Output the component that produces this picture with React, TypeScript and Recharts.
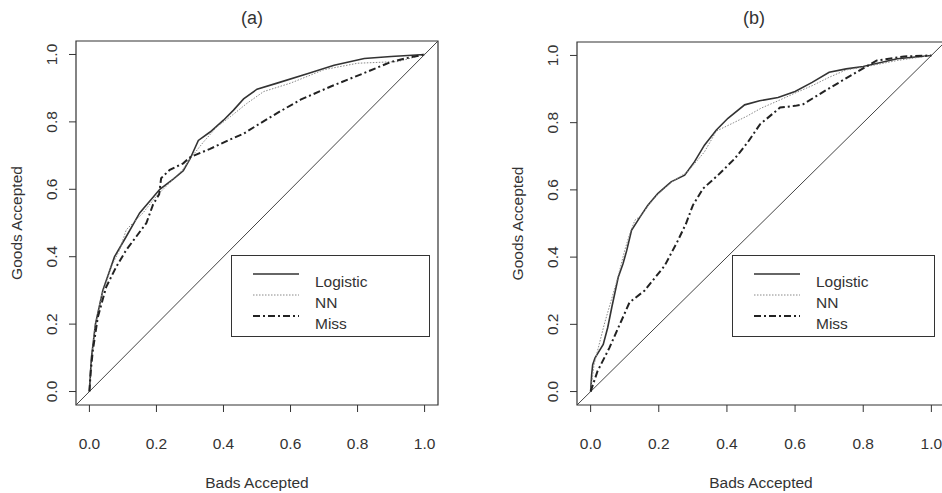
import React from 'react'
import {
  LineChart,
  Line,
  XAxis,
  YAxis,
  ReferenceLine,
  ReferenceArea,
  Legend,
} from 'recharts'

// tick values shared by both axes of both panels
const axisTicks = [0, 0.2, 0.4, 0.6, 0.8, 1.0]
const axisDomain = [-0.04, 1.04]
const seriesNames = ['Logistic', 'NN', 'Miss']

// panel (a): [bads accepted, goods accepted]
const logisticA: [number, number][] = [
  [0, 0], [0.003, 0.05], [0.006, 0.1], [0.018, 0.2], [0.04, 0.3], [0.075, 0.4],
  [0.11, 0.46], [0.15, 0.53], [0.21, 0.6], [0.25, 0.63], [0.28, 0.655], [0.3, 0.69],
  [0.325, 0.745], [0.36, 0.77], [0.4, 0.805], [0.43, 0.835], [0.46, 0.868], [0.5, 0.897],
  [0.56, 0.915], [0.65, 0.943], [0.73, 0.968], [0.82, 0.988], [0.9, 0.994], [1, 1],
]
const nnA: [number, number][] = [
  [0, 0], [0.005, 0.08], [0.015, 0.18], [0.035, 0.28], [0.065, 0.37], [0.09, 0.42],
  [0.11, 0.48], [0.16, 0.53], [0.2, 0.58], [0.24, 0.62], [0.28, 0.66], [0.3, 0.69],
  [0.34, 0.74], [0.38, 0.785], [0.42, 0.815], [0.47, 0.855], [0.52, 0.89], [0.6, 0.915],
  [0.7, 0.955], [0.8, 0.974], [0.92, 0.979], [1, 1],
]
const missA: [number, number][] = [
  [0, 0], [0.004, 0.06], [0.01, 0.12], [0.025, 0.22], [0.05, 0.31], [0.08, 0.37],
  [0.11, 0.42], [0.14, 0.46], [0.17, 0.5], [0.19, 0.555], [0.208, 0.585], [0.214, 0.633],
  [0.24, 0.658], [0.28, 0.677], [0.3, 0.695], [0.36, 0.72], [0.42, 0.748], [0.46, 0.765],
  [0.5, 0.79], [0.56, 0.826], [0.63, 0.866], [0.72, 0.905], [0.82, 0.945], [0.9, 0.978],
  [0.95, 0.99], [1, 1],
]

// panel (b)
const logisticB: [number, number][] = [
  [0, 0], [0.003, 0.05], [0.006, 0.08], [0.013, 0.1], [0.037, 0.14], [0.05, 0.19],
  [0.062, 0.25], [0.081, 0.34], [0.095, 0.38], [0.106, 0.42], [0.12, 0.48], [0.148, 0.524],
  [0.168, 0.554], [0.197, 0.589], [0.236, 0.624], [0.276, 0.644], [0.305, 0.684],
  [0.334, 0.733], [0.369, 0.778], [0.403, 0.813], [0.452, 0.853], [0.496, 0.865],
  [0.55, 0.875], [0.6, 0.893], [0.65, 0.92], [0.7, 0.95], [0.75, 0.96], [0.8, 0.967],
  [0.9, 0.99], [1, 1],
]
const nnB: [number, number][] = [
  [0, 0], [0.01, 0.08], [0.02, 0.12], [0.04, 0.2], [0.06, 0.27], [0.08, 0.34],
  [0.1, 0.42], [0.115, 0.47], [0.13, 0.51], [0.15, 0.525], [0.17, 0.555], [0.2, 0.59],
  [0.24, 0.625], [0.285, 0.654], [0.334, 0.713], [0.369, 0.775], [0.42, 0.8], [0.46, 0.82],
  [0.5, 0.843], [0.55, 0.865], [0.6, 0.888], [0.65, 0.91], [0.7, 0.935], [0.75, 0.957],
  [0.8, 0.965], [0.9, 0.985], [1, 1],
]
const missB: [number, number][] = [
  [0, 0], [0.02, 0.06], [0.055, 0.13], [0.09, 0.21], [0.114, 0.265], [0.158, 0.3],
  [0.217, 0.374], [0.256, 0.449], [0.28, 0.5], [0.3, 0.554], [0.33, 0.604], [0.374, 0.644],
  [0.423, 0.693], [0.462, 0.743], [0.497, 0.795], [0.556, 0.845], [0.6, 0.85],
  [0.624, 0.855], [0.693, 0.898], [0.78, 0.95], [0.84, 0.985], [0.92, 0.997], [1, 1],
]

const FONT = '"Liberation Sans", Arial, Helvetica, sans-serif'
const INK = '#333'

const styles = [
  { stroke: '#333', width: 1.6, dash: undefined as string | undefined },
  { stroke: '#888', width: 1, dash: '1.5 1.5' },
  { stroke: '#222', width: 2, dash: '7 3 2 3' },
]

const toPoints = (arr: [number, number][]) => arr.map(([x, y]) => ({ x, y }))

const XTick = (props: any) => {
  const { x, y, payload } = props
  return (
    <text x={x} y={y + 31} textAnchor="middle" dominantBaseline="central"
      fontSize={15.5} fontFamily={FONT} fill={INK}>
      {Number(payload.value).toFixed(1)}
    </text>
  )
}

const YTick = (props: any) => {
  const { x, y, payload } = props
  const cx = x - 17
  return (
    <text x={cx} y={y} transform={`rotate(-90, ${cx}, ${y})`} textAnchor="middle"
      dominantBaseline="central" fontSize={15.5} fontFamily={FONT} fill={INK}>
      {Number(payload.value).toFixed(1)}
    </text>
  )
}

function LegendBox({ width }: { width: number }) {
  return (
    <svg width={width} height={82} style={{ display: 'block' }}>
      <rect x={0.5} y={0.5} width={width - 1} height={81} fill="#fff" stroke={INK} />
      {seriesNames.map((name, i) => (
        <g key={name}>
          <line x1={22} x2={68} y1={19 + i * 21} y2={19 + i * 21}
            stroke={styles[i].stroke} strokeWidth={styles[i].width}
            strokeDasharray={styles[i].dash} />
          <text x={84} y={32 + i * 21} fontSize={15.5} fontFamily={FONT} fill={INK}>
            {name}
          </text>
        </g>
      ))}
    </svg>
  )
}

interface PanelProps {
  left: number
  top: number
  rightMargin: number
  title: string
  titleX: number
  legendLeft: number
  legendWidth: number
  series: [number, number][][]
}

function Panel({ left, top, rightMargin, title, titleX, legendLeft, legendWidth, series }: PanelProps) {
  return (
    <div style={{ position: 'absolute', left: 0, top: 0 }}>
      <div style={{
        position: 'absolute', left: titleX - 40, width: 80, top: 7, lineHeight: '22px',
        textAlign: 'center', fontSize: 18, fontFamily: FONT, color: INK,
      }}>
        {title}
      </div>
      <div style={{ position: 'absolute', left, top: 0 }}>
        <LineChart width={471} height={493} margin={{ top, right: rightMargin, bottom: 0, left: 0 }}>
          <XAxis type="number" dataKey="x" domain={axisDomain} ticks={axisTicks}
            allowDataOverflow height={88} tickSize={7} tickMargin={0} axisLine={false}
            tickLine={{ stroke: INK }} tick={<XTick />}
            label={{
              content: ({ viewBox }: any) => (
                <text x={viewBox.x + viewBox.width / 2} y={viewBox.y + 77}
                  textAnchor="middle" dominantBaseline="central"
                  fontSize={15.5} fontFamily={FONT} fill={INK}>Bads Accepted</text>
              ),
            }} />
          <YAxis type="number" domain={axisDomain} ticks={axisTicks} allowDataOverflow
            width={76} tickSize={7} tickMargin={0} axisLine={false}
            tickLine={{ stroke: INK }} tick={<YTick />}
            label={{
              content: ({ viewBox }: any) => {
                const cx = viewBox.x + 16
                const cy = viewBox.y + viewBox.height / 2
                return (
                  <text x={cx} y={cy} transform={`rotate(-90, ${cx}, ${cy})`}
                    textAnchor="middle" dominantBaseline="central"
                    fontSize={15.5} fontFamily={FONT} fill={INK}>Goods Accepted</text>
                )
              },
            }} />
          <ReferenceArea x1={axisDomain[0]} x2={axisDomain[1]} y1={axisDomain[0]} y2={axisDomain[1]}
            fill="none" fillOpacity={0} stroke={INK} strokeWidth={1.2} />
          <ReferenceLine segment={[{ x: axisDomain[0], y: axisDomain[0] }, { x: axisDomain[1], y: axisDomain[1] }]}
            stroke="#444" strokeWidth={1} />
          {series.map((s, i) => (
            <Line key={seriesNames[i]} name={seriesNames[i]} data={toPoints(s)} dataKey="y"
              type="linear" stroke={styles[i].stroke} strokeWidth={styles[i].width}
              strokeDasharray={styles[i].dash} dot={false} activeDot={false}
              isAnimationActive={false} />
          ))}
          <Legend layout="vertical" align="center" verticalAlign="middle"
            wrapperStyle={{ left: legendLeft, top: 255, width: legendWidth, height: 82 }}
            content={() => <LegendBox width={legendWidth} />} />
        </LineChart>
      </div>
    </div>
  )
}

export default function App() {
  return (
    <div style={{
      position: 'fixed', left: 0, top: 0, width: 942, height: 493,
      overflow: 'hidden', background: '#fff',
    }}>
      <Panel left={0} top={41} rightMargin={33} title="(a)" titleX={252}
        legendLeft={231} legendWidth={199} series={[logisticA, nnA, missA]} />
      <Panel left={501} top={42} rightMargin={27} title="(b)" titleX={754}
        legendLeft={231} legendWidth={203} series={[logisticB, nnB, missB]} />
    </div>
  )
}
